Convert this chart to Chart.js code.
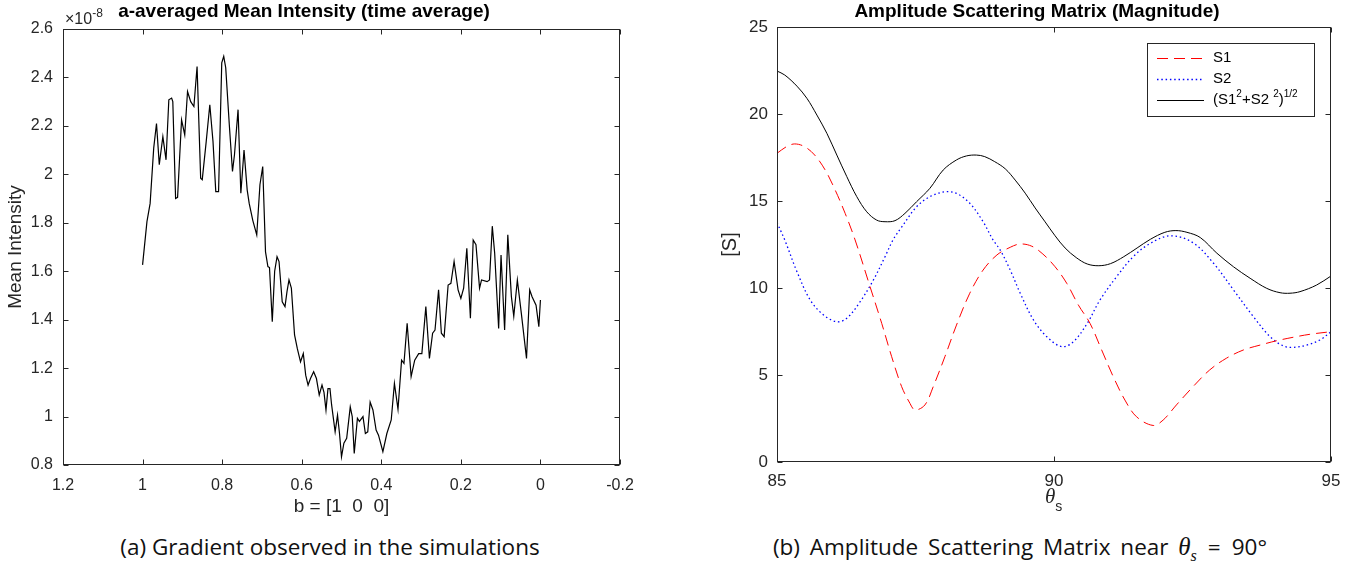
<!DOCTYPE html>
<html lang="en">
<head>
  <meta charset="UTF-8">
  <title>Mean Intensity / Amplitude Scattering Matrix</title>
  <script src="https://cdn.jsdelivr.net/npm/chart.js"></script>
  <style>
    body {
      margin: 0;
      background: #fff;
      width: 1359px;
      height: 570px;
      position: relative;
      overflow: hidden;
      font-family: "Liberation Sans", Arial, sans-serif;
    }
    .panel { position: absolute; top: 0; }
    #panelA { left: 0; width: 680px; height: 530px; }
    #panelB { left: 680px; width: 679px; height: 530px; }
    .ptitle {
      position: absolute; top: 0;
      font-weight: bold; color: #000; white-space: nowrap;
      transform: translateX(-50%);
    }
    .mult {
      position: absolute; left: 65px; top: 7px;
      font-size: 16px; color: #262626;
    }
    .mult sup { font-size: 12px; position: relative; top: -1px; }
    .theta-label {
      position: absolute; left: 1045px; top: 484px;
      font-family: "Liberation Serif", "DejaVu Serif", serif;
      font-style: italic; font-size: 21px; color: #262626;
    }
    .theta-label sub {
      font-family: "Liberation Sans", Arial, sans-serif;
      font-style: normal; font-size: 14px; position: relative; top: 3px;
    }
    .caption {
      position: absolute; top: 531px;
      font-family: "Open Sans", "Noto Sans", sans-serif;
      font-size: 22.5px; color: #111;
      white-space: nowrap;
      transform: translateX(-50%);
    }
    .caption .m {
      font-family: "Liberation Serif", "DejaVu Serif", serif;
      font-style: italic; font-size: 25px;
    }
    .caption .m sub { font-size: 16px; }
    .caption .eq { margin: 0 11px; }
  </style>
</head>
<body>
  <div id="panelA" class="panel"><canvas id="intensityChart" width="680" height="530"></canvas></div>
  <div id="panelB" class="panel"><canvas id="scatterChart" width="679" height="530"></canvas></div>
  <div class="ptitle" style="left:304px;font-size:19px">a-averaged Mean Intensity (time average)</div>
  <div class="ptitle" style="left:1037px;font-size:19px">Amplitude Scattering Matrix (Magnitude)</div>
  <div class="mult">&times;10<sup>-8</sup></div>
  <div class="theta-label">&theta;<sub>s</sub></div>
  <div class="caption" style="left:330px">(a) Gradient observed in the simulations</div>
  <div class="caption" style="left:1020px;word-spacing:4px">(b) Amplitude Scattering Matrix near <span class="m">&theta;<sub>s</sub></span><span class="eq">=</span>90&deg;</div>

  <script>
    // ---- (a) a-averaged mean intensity, values in units of 1e-8 ----
    const bValues = [1.000,0.989,0.981,0.972,0.965,0.958,0.949,0.941,0.934,0.927,0.924,0.917,0.912,0.902,0.894,0.887,0.879,0.871,0.863,0.854,
      0.850,0.840,0.831,0.823,0.816,0.809,0.801,0.796,0.791,0.782,0.774,0.769,0.760,0.753,0.745,0.737,0.732,0.723,0.713,0.705,
      0.698,0.691,0.685,0.681,0.674,0.668,0.662,0.657,0.649,0.642,0.637,0.632,0.626,0.618,0.611,0.603,0.596,0.590,0.584,0.578,
      0.570,0.563,0.556,0.549,0.544,0.539,0.534,0.529,0.525,0.516,0.510,
      0.505,0.500,0.494,0.487,0.478,0.473,0.468,0.460,0.455,0.446,0.440,0.434,0.428,0.421,0.413,0.407,0.396,0.386,0.375,0.367,
      0.358,0.349,0.343,0.335,0.325,0.316,0.306,0.298,0.288,0.279,0.271,0.265,0.256,0.249,0.242,0.232,0.225,0.217,0.207,0.200,
      0.193,0.185,0.176,0.169,0.162,0.153,0.148,0.134,0.128,0.121,0.115,0.105,0.099,0.090,0.082,0.073,0.067,0.058,0.048,0.035,
      0.027,0.021,0.011,0.004,0.000];
    const meanIntensity = [1.626,1.805,1.88,2.108,2.21,2.04,2.156,2.06,2.308,2.315,2.30,1.90,1.905,2.225,2.163,2.342,2.30,2.28,2.445,1.984,
      1.978,2.136,2.287,2.136,1.929,1.929,2.46,2.487,2.44,2.205,2.012,2.081,2.267,1.922,2.10,1.935,1.88,1.81,1.75,1.957,
      2.032,1.68,1.619,1.615,1.392,1.60,1.66,1.64,1.474,1.454,1.516,1.564,1.53,1.337,1.28,1.226,1.26,1.171,1.13,1.157,
      1.185,1.157,1.089,1.13,1.10,1.027,1.115,1.115,1.05,0.937,1.006,
      0.93,0.834,0.89,0.91,1.04,1.0,0.848,0.993,0.98,1.0,0.93,0.937,1.06,1.027,0.944,0.923,0.855,0.93,0.986,1.137,
      1.03,1.233,1.22,1.385,1.165,1.233,1.26,1.26,1.454,1.24,1.344,1.357,1.523,1.344,1.33,1.543,1.55,1.64,1.523,1.488,
      1.53,1.695,1.406,1.729,1.71,1.53,1.564,1.557,1.564,1.786,1.674,1.364,1.667,1.357,1.75,1.495,1.414,1.564,1.426,1.24,
      1.523,1.495,1.46,1.371,1.481];
    const bTicks = [1.2, 1, 0.8, 0.6, 0.4, 0.2, 0, -0.2];
    const intensityTicks = [0.8, 1, 1.2, 1.4, 1.6, 1.8, 2, 2.2, 2.4, 2.6];

    // ---- (b) amplitude scattering matrix magnitude ----
    const thetaS1 = [85.00,85.17,85.32,85.50,85.68,85.87,86.05,86.23,86.41,86.68,86.89,87.07,87.25,87.40,87.49,87.67,87.82,88.03,88.24,88.48,
      88.72,88.97,89.21,89.39,89.60,89.80,90.02,90.23,90.44,90.65,90.86,91.07,91.28,91.49,91.79,91.97,92.21,92.51,92.81,93.11,
      93.42,93.72,94.02,94.32,94.62,95.00];
    const s1Values = [17.74,18.12,18.28,18.12,17.64,16.78,15.63,14.29,12.76,10.07,7.97,6.05,4.33,3.37,2.99,3.28,4.33,6.05,7.87,9.70,
      11.03,11.90,12.34,12.53,12.40,11.95,11.22,10.27,9.02,7.97,6.44,4.90,3.56,2.60,2.10,2.41,3.28,4.33,5.29,5.96,
      6.44,6.72,6.97,7.17,7.34,7.49];
    const thetaS2 = [85.00,85.14,85.36,85.60,85.84,86.08,86.26,86.50,86.74,86.95,87.10,87.25,87.52,87.76,88.03,88.24,88.48,88.72,88.90,89.03,
      89.21,89.39,89.63,89.87,90.14,90.35,90.60,90.83,91.13,91.43,91.73,92.10,92.51,92.88,93.24,93.60,93.90,94.14,94.32,94.56,
      94.80,95.00];
    const s2Values = [13.75,12.76,10.94,9.31,8.45,8.06,8.26,9.21,10.46,11.80,12.80,13.50,14.67,15.25,15.53,15.44,14.87,13.81,12.76,12.18,
      11.03,9.70,8.16,7.20,6.63,6.91,7.97,9.31,10.65,11.80,12.55,13.00,12.60,11.42,9.89,8.35,7.20,6.67,6.59,6.72,
      7.01,7.49];
    const thetaMag = [85.00,85.14,85.36,85.54,85.72,85.90,86.08,86.26,86.44,86.62,86.80,86.95,87.13,87.31,87.52,87.76,88.00,88.24,88.42,88.60,
      88.75,88.93,89.12,89.30,89.48,89.66,89.84,90.02,90.20,90.40,90.60,90.81,91.02,91.26,91.50,91.74,92.00,92.20,92.40,92.64,
      92.94,93.24,93.54,93.84,94.08,94.26,94.44,94.74,95.00];
    const magValues = [22.47,22.24,21.60,20.90,19.94,18.89,17.64,16.40,15.25,14.38,13.90,13.81,13.87,14.29,14.96,15.73,16.78,17.36,17.59,17.64,
      17.55,17.26,16.85,16.20,15.45,14.60,13.80,13.00,12.30,11.75,11.38,11.28,11.40,11.80,12.30,12.80,13.20,13.30,13.20,12.90,
      12.00,11.22,10.56,9.98,9.73,9.70,9.79,10.17,10.69];
    const thetaTicks = [85, 90, 95];
    const sTicks = [0, 5, 10, 15, 20, 25];

    const AXIS = '#262626';
    Chart.defaults.font.family = '"Liberation Sans", Arial, sans-serif';
    Chart.defaults.color = AXIS;

    function toPoints(xs, ys) {
      return xs.map((x, i) => ({ x: x, y: ys[i] }));
    }
    function fmt(v) {
      return String(Math.round(v * 10) / 10);
    }

    // MATLAB style box with inward ticks on all four sides
    const boxPlugin = {
      id: 'matlabBox',
      afterDraw(chart) {
        const { ctx, chartArea: a, scales } = chart;
        const l = Math.round(a.left) + 0.5, r = Math.round(a.right) - 0.5;
        const t = Math.round(a.top) + 0.5, b = Math.round(a.bottom) - 0.5;
        const len = 5;
        ctx.save();
        ctx.strokeStyle = AXIS;
        ctx.lineWidth = 1;
        ctx.strokeRect(l, t, r - l, b - t);
        ctx.beginPath();
        scales.x.ticks.forEach(tk => {
          const px = Math.round(scales.x.getPixelForValue(tk.value)) + 0.5;
          ctx.moveTo(px, b); ctx.lineTo(px, b - len);
          ctx.moveTo(px, t); ctx.lineTo(px, t + len);
        });
        scales.y.ticks.forEach(tk => {
          const py = Math.round(scales.y.getPixelForValue(tk.value)) + 0.5;
          ctx.moveTo(l, py); ctx.lineTo(l + len, py);
          ctx.moveTo(r, py); ctx.lineTo(r - len, py);
        });
        ctx.stroke();
        ctx.restore();
      }
    };

    // legend box drawn inside the plot area, with superscripts
    const boxLegend = {
      id: 'boxLegend',
      afterDraw(chart, args, opts) {
        if (!opts.display) return;
        const ctx = chart.ctx;
        ctx.save();
        ctx.fillStyle = '#fff';
        ctx.fillRect(opts.x, opts.y, opts.w, opts.h);
        ctx.strokeStyle = AXIS;
        ctx.lineWidth = 1;
        ctx.strokeRect(opts.x + 0.5, opts.y + 0.5, opts.w, opts.h);
        chart.data.datasets.forEach((ds, i) => {
          const cy = opts.y + opts.firstRow + i * opts.rowGap;
          ctx.beginPath();
          ctx.setLineDash(ds.borderDash || []);
          ctx.strokeStyle = ds.borderColor;
          ctx.lineWidth = ds.borderWidth;
          ctx.moveTo(opts.x + opts.lineStart, cy + 0.5);
          ctx.lineTo(opts.x + opts.lineEnd, cy + 0.5);
          ctx.stroke();
          ctx.setLineDash([]);
          ctx.fillStyle = '#000';
          ctx.textBaseline = 'middle';
          let tx = opts.x + opts.textStart;
          opts.labels[i].forEach(part => {
            const sup = part[1] === true;
            ctx.font = (sup ? '10px ' : '15px ') + Chart.defaults.font.family;
            ctx.fillText(part[0], tx, sup ? cy - 6 : cy);
            tx += ctx.measureText(part[0]).width;
          });
        });
        ctx.restore();
      }
    };

    const noGrid = { display: false, drawTicks: false };

    new Chart(document.getElementById('intensityChart'), {
      type: 'scatter',
      data: {
        datasets: [{
          label: 'Mean Intensity',
          data: toPoints(bValues, meanIntensity),
          showLine: true,
          borderColor: '#000',
          borderWidth: 1.2,
          pointRadius: 0,
          tension: 0
        }]
      },
      options: {
        responsive: false,
        animation: false,
        layout: { padding: { top: 29, right: 60, bottom: 12, left: 0 } },
        plugins: {
          legend: { display: false },
          tooltip: { enabled: false },
          title: { display: false }
        },
        scales: {
          x: {
            type: 'linear', reverse: true, min: -0.2, max: 1.2,
            afterBuildTicks: s => { s.ticks = bTicks.map(v => ({ value: v })); },
            afterFit: s => { s.height = 53; },
            grid: noGrid, border: { display: false },
            ticks: { color: AXIS, font: { size: 16 }, padding: 11, autoSkip: false, maxRotation: 0, callback: v => fmt(v) },
            title: { display: true, text: 'b = [1  0  0]', color: AXIS, font: { size: 19 }, padding: { top: 0, bottom: 0 } }
          },
          y: {
            type: 'linear', min: 0.8, max: 2.6,
            afterBuildTicks: s => { s.ticks = intensityTicks.map(v => ({ value: v })); },
            afterFit: s => { s.width = 63; },
            grid: noGrid, border: { display: false },
            ticks: { color: AXIS, font: { size: 16 }, padding: 10, callback: v => fmt(v) },
            title: { display: true, text: 'Mean Intensity', color: AXIS, font: { size: 19 }, padding: { top: 4, bottom: 0 } }
          }
        }
      },
      plugins: [boxPlugin]
    });

    new Chart(document.getElementById('scatterChart'), {
      type: 'scatter',
      data: {
        datasets: [
          {
            label: 'S1',
            data: toPoints(thetaS1, s1Values),
            showLine: true, borderColor: '#ff0000', borderWidth: 1,
            borderDash: [11, 6], pointRadius: 0, tension: 0.35
          },
          {
            label: 'S2',
            data: toPoints(thetaS2, s2Values),
            showLine: true, borderColor: '#0000ff', borderWidth: 1.3,
            borderDash: [1.5, 2.8], pointRadius: 0, tension: 0.35
          },
          {
            label: '(S1^2+S2^2)^1/2',
            data: toPoints(thetaMag, magValues),
            showLine: true, borderColor: '#000', borderWidth: 1,
            pointRadius: 0, tension: 0.35
          }
        ]
      },
      options: {
        responsive: false,
        animation: false,
        layout: { padding: { top: 27, right: 28, bottom: 0, left: 38 } },
        plugins: {
          legend: { display: false },
          tooltip: { enabled: false },
          title: { display: false },
          boxLegend: {
            display: true,
            x: 467, y: 43, w: 167, h: 73,
            firstRow: 15, rowGap: 21,
            lineStart: 10, lineEnd: 57, textStart: 66,
            labels: [
              [['S1']],
              [['S2']],
              [['(S1'], ['2', true], ['+S2 '], ['2', true], [')'], ['1/2', true]]
            ]
          }
        },
        scales: {
          x: {
            type: 'linear', min: 85, max: 95,
            afterBuildTicks: s => { s.ticks = thetaTicks.map(v => ({ value: v })); },
            afterFit: s => { s.height = 68; },
            grid: noGrid, border: { display: false },
            ticks: { color: AXIS, font: { size: 17 }, padding: 9, autoSkip: false, maxRotation: 0 }
          },
          y: {
            type: 'linear', min: 0, max: 25,
            afterBuildTicks: s => { s.ticks = sTicks.map(v => ({ value: v })); },
            afterFit: s => { s.width = 59; },
            grid: noGrid, border: { display: false },
            ticks: { color: AXIS, font: { size: 17 }, padding: 9 },
            title: { display: true, text: '[S]', color: AXIS, font: { size: 20 }, padding: { top: 0, bottom: 0 } }
          }
        }
      },
      plugins: [boxPlugin, boxLegend]
    });
  </script>
</body>
</html>
